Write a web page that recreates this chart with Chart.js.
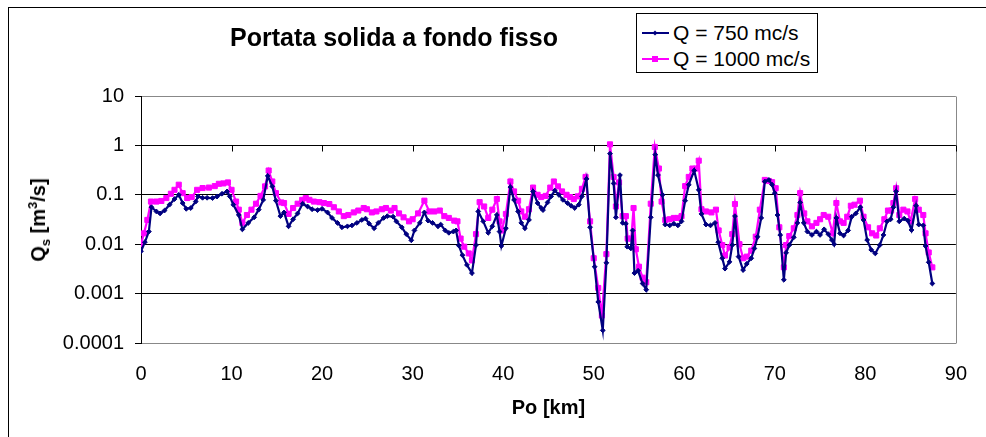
<!DOCTYPE html>
<html>
<head>
<meta charset="utf-8">
<script src="https://cdn.jsdelivr.net/npm/chart.js@4.4.1/dist/chart.umd.min.js"></script>
<style>
  html, body { margin: 0; padding: 0; background: #fff; overflow: hidden; }
  #wrap { position: relative; width: 986px; height: 437px; font-family: "Liberation Sans", Arial, sans-serif; color: #000; }
  #frame { position: absolute; left: 8px; top: 7px; width: 1200px; height: 800px; border-left: 1px solid #000; border-top: 1px solid #000; }
  canvas { position: absolute; left: 0; top: 0; }
  #title { position: absolute; left: 394px; top: 37px; transform: translate(-50%, -50%); white-space: nowrap; font-weight: bold; font-size: 25px; line-height: 1; }
  #ytitle { position: absolute; left: 38px; top: 220px; transform: translate(-50%, -50%) rotate(-90deg); white-space: nowrap; font-weight: bold; font-size: 20px; line-height: 1; }
  #ytitle sub, #ytitle sup { font-size: 13px; line-height: 0; }
  #legend { position: absolute; left: 636px; top: 13px; width: 180px; height: 58px; border: 1px solid #000; background: #fff; }
  .lrow { position: absolute; left: 5px; height: 24px; display: flex; align-items: center; font-size: 21px; white-space: nowrap; }
  .lrow svg { margin-right: 4px; }
</style>
</head>
<body>
<div id="wrap">
  <div id="frame"></div>
  <canvas id="c" width="986" height="437"></canvas>
  <div id="title">Portata solida a fondo fisso</div>
  <div id="ytitle">Q<sub>s</sub> [m<sup>3</sup>/s]</div>
  <div id="legend"></div>
</div>
<script>
// ---- data ----
const seriesNames = ['Q = 750 mc/s', 'Q = 1000 mc/s'];
const seriesColors = ['#000080', '#FF00FF'];

const km750 = [0,0.43,0.87,1.16,1.7,2.1,2.6,3.15,3.7,4.17,4.6,5.0,5.5,6.05,6.3,6.8,7.3,7.9,8.4,8.95,9.5,9.8,10.2,10.8,11.2,11.85,12.5,13.0,13.5,14.0,14.5,14.9,15.4,15.8,16.3,16.8,17.3,17.85,18.4,18.9,19.5,20.0,20.6,21.1,21.7,22.2,22.8,23.3,23.85,24.4,24.8,25.2,25.75,26.2,26.8,27.2,27.85,28.2,28.8,29.3,29.85,30.2,30.8,31.3,31.7,32.2,32.8,33.1,33.6,34.0,34.5,34.8,35.1,35.5,36.0,36.55,37.0,37.25,37.8,38.35,38.8,39.3,39.6,39.8,40.3,40.8,41.2,41.65,42.0,42.4,42.85,43.3,43.8,44.2,44.4,44.9,45.3,45.7,46.15,46.6,47.1,47.5,47.9,48.35,48.7,49.2,49.6,50.1,50.5,51.0,51.4,51.8,52.2,52.45,52.9,53.2,53.55,53.7,54.1,54.3,54.5,54.9,55.4,55.8,56.3,56.8,57.1,57.6,57.9,58.4,58.85,59.3,59.7,60.1,60.5,61.1,61.6,61.9,62.4,62.9,63.4,63.75,64.2,64.5,65.0,65.3,65.6,66.0,66.5,66.9,67.4,67.75,68.1,68.5,68.9,69.35,69.7,70.0,70.3,70.6,71.0,71.25,71.6,72.1,72.5,72.8,73.2,73.6,74.1,74.6,75.0,75.45,75.9,76.3,76.55,76.8,77.2,77.6,78.1,78.5,78.95,79.45,79.8,80.2,80.65,81.1,81.6,82.0,82.4,82.8,83.1,83.4,83.75,84.3,84.7,85.1,85.6,85.9,86.4,86.65,87.0,87.4];
const qs750 = [0.0072,0.011,0.018,0.056,0.046,0.042,0.048,0.063,0.082,0.1,0.068,0.052,0.054,0.073,0.093,0.087,0.087,0.086,0.092,0.105,0.117,0.093,0.063,0.039,0.02,0.027,0.035,0.05,0.079,0.24,0.148,0.076,0.037,0.044,0.023,0.032,0.042,0.066,0.058,0.051,0.049,0.052,0.044,0.034,0.027,0.022,0.023,0.024,0.027,0.031,0.033,0.026,0.021,0.027,0.034,0.037,0.036,0.029,0.022,0.016,0.012,0.019,0.027,0.044,0.03,0.027,0.023,0.025,0.019,0.017,0.018,0.019,0.0094,0.006,0.0038,0.0026,0.0096,0.046,0.029,0.017,0.023,0.039,0.018,0.0092,0.021,0.143,0.079,0.046,0.027,0.021,0.031,0.117,0.068,0.054,0.049,0.07,0.093,0.122,0.1,0.079,0.068,0.06,0.054,0.063,0.093,0.21,0.022,0.0035,0.00068,0.00018,0.0042,0.68,0.17,0.035,0.25,0.027,0.026,0.0089,0.0082,0.019,0.0026,0.0029,0.0016,0.0012,0.035,0.65,0.25,0.1,0.025,0.024,0.026,0.024,0.029,0.076,0.16,0.31,0.126,0.041,0.025,0.024,0.027,0.011,0.0052,0.0032,0.0044,0.0096,0.037,0.0056,0.003,0.004,0.0052,0.0082,0.0142,0.034,0.186,0.2,0.16,0.108,0.039,0.0154,0.0019,0.0067,0.0096,0.0138,0.027,0.07,0.027,0.018,0.0154,0.018,0.0154,0.02,0.016,0.0122,0.01,0.034,0.0166,0.015,0.019,0.036,0.042,0.056,0.031,0.0122,0.0077,0.0065,0.0096,0.0154,0.029,0.032,0.056,0.117,0.029,0.033,0.03,0.0194,0.06,0.025,0.024,0.0092,0.0043,0.0016];

const km1000 = [0,0.33,0.7,1.1,1.7,2.25,2.8,3.3,3.7,4.17,4.6,5.1,5.6,6.2,6.8,7.5,8.15,8.6,9.1,9.6,10.0,10.5,10.8,11.2,11.7,12.2,12.7,13.2,13.7,14.1,14.5,14.9,15.5,15.8,16.3,16.8,17.3,17.8,18.2,18.6,19.1,19.7,20.2,20.8,21.3,21.85,22.4,22.9,23.5,24.0,24.6,24.95,25.5,26.0,26.6,27.05,27.6,28.0,28.5,29.0,29.6,30.0,30.6,31.3,31.85,32.4,33.0,33.5,34.0,34.6,34.95,35.3,35.7,36.2,36.55,37.0,37.4,37.9,38.35,38.8,39.3,39.6,39.85,40.3,40.8,41.2,41.65,42.0,42.4,42.85,43.3,43.8,44.2,44.7,45.2,45.6,46.05,46.5,47.0,47.4,47.8,48.25,48.7,49.1,49.6,50.0,50.5,50.9,51.4,51.8,52.2,52.45,52.8,53.2,53.55,53.75,54.15,54.4,54.65,55.0,55.4,55.8,56.3,56.75,57.2,57.5,57.9,58.4,58.85,59.3,59.7,60.1,60.5,60.9,61.3,61.6,61.9,62.4,63.0,63.5,63.8,64.2,64.5,65.0,65.3,65.6,66.1,66.5,66.9,67.4,67.9,68.35,68.9,69.35,69.7,70.1,70.5,71.0,71.25,71.6,72.1,72.5,72.8,73.25,73.6,74.1,74.6,75.0,75.4,75.9,76.4,76.8,77.2,77.6,78.0,78.4,78.8,79.4,79.8,80.3,80.75,81.2,81.6,82.1,82.5,82.85,83.1,83.4,83.75,84.2,84.65,85.0,85.5,85.9,86.4,86.65,87.0,87.4];
const qs1000 = [0.01,0.0166,0.031,0.073,0.073,0.075,0.086,0.105,0.126,0.16,0.108,0.086,0.09,0.126,0.137,0.14,0.15,0.167,0.17,0.178,0.126,0.073,0.05,0.027,0.039,0.05,0.066,0.095,0.148,0.31,0.186,0.108,0.07,0.068,0.041,0.054,0.066,0.079,0.086,0.079,0.073,0.071,0.068,0.065,0.056,0.046,0.037,0.039,0.044,0.048,0.054,0.051,0.044,0.046,0.051,0.054,0.048,0.054,0.042,0.035,0.029,0.032,0.042,0.076,0.046,0.046,0.048,0.037,0.034,0.03,0.029,0.013,0.0089,0.0065,0.0047,0.016,0.071,0.058,0.034,0.05,0.082,0.029,0.019,0.041,0.186,0.117,0.076,0.046,0.036,0.051,0.14,0.1,0.09,0.095,0.14,0.186,0.148,0.117,0.1,0.09,0.082,0.093,0.132,0.23,0.029,0.0052,0.0013,0.00036,0.0063,1.05,0.23,0.058,0.178,0.037,0.037,0.013,0.013,0.054,0.0079,0.0035,0.0021,0.0017,0.066,0.93,0.34,0.073,0.031,0.032,0.034,0.034,0.037,0.15,0.23,0.34,0.34,0.49,0.051,0.046,0.044,0.05,0.019,0.0096,0.0059,0.0086,0.016,0.065,0.01,0.0052,0.0056,0.0074,0.0142,0.05,0.2,0.19,0.18,0.136,0.022,0.0034,0.0096,0.0146,0.021,0.039,0.108,0.042,0.029,0.023,0.027,0.032,0.039,0.036,0.0166,0.068,0.029,0.027,0.036,0.06,0.063,0.076,0.036,0.022,0.0166,0.015,0.021,0.032,0.048,0.048,0.068,0.136,0.039,0.05,0.046,0.029,0.082,0.05,0.039,0.0166,0.0068,0.0034];

const xTicks = [0,10,20,30,40,50,60,70,80,90];
const yTicks = [0.0001,0.001,0.01,0.1,1,10];
const yTickLabels = ['0.0001','0.001','0.01','0.1','1','10'];
const xAxisTitle = 'Po [km]';
const axisCross = 1; // category axis crosses the value axis at 1 (Excel default for log)

// ---- build ----
const toPts = (xs, ys) => xs.map((x, i) => ({x: x, y: ys[i]}));

const FONT = '"Liberation Sans", Arial, sans-serif';

const excelAxes = {
  id: 'excelAxes',
  beforeDatasetsDraw(chart) {
    const {ctx, chartArea, scales} = chart;
    const x = scales.x, y = scales.y;
    ctx.save();
    ctx.lineWidth = 1;
    ctx.strokeStyle = '#888888';
    const r = Math.round(chartArea.right) + 0.5;
    ctx.beginPath();
    ctx.moveTo(r, Math.round(chartArea.top) + 0.5);
    ctx.lineTo(r, Math.round(chartArea.bottom) + 0.5);
    ctx.stroke();
    const yc = Math.round(y.getPixelForValue(axisCross)) + 0.5;
    ctx.strokeStyle = '#000';
    ctx.beginPath();
    xTicks.forEach(v => {
      const px = Math.round(x.getPixelForValue(v)) + 0.5;
      ctx.moveTo(px, yc);
      ctx.lineTo(px, yc + 6);
    });
    ctx.stroke();
    ctx.restore();
  }
};

const chart = new Chart(document.getElementById('c'), {
  type: 'line',
  data: {
    datasets: [
      {
        label: seriesNames[0],
        data: toPts(km750, qs750),
        borderColor: seriesColors[0],
        backgroundColor: seriesColors[0],
        borderWidth: 2.2,
        pointStyle: 'rectRot',
        pointRadius: 2.4,
        pointBorderWidth: 1,
        pointBackgroundColor: seriesColors[0],
        pointBorderColor: seriesColors[0],
        tension: 0,
        fill: false
      },
      {
        label: seriesNames[1],
        data: toPts(km1000, qs1000),
        borderColor: seriesColors[1],
        backgroundColor: seriesColors[1],
        borderWidth: 2.2,
        pointStyle: 'rect',
        pointRadius: 3.6,
        pointBorderWidth: 1,
        pointBackgroundColor: seriesColors[1],
        pointBorderColor: seriesColors[1],
        tension: 0,
        fill: false
      }
    ]
  },
  options: {
    responsive: false,
    devicePixelRatio: 1,
    animation: false,
    events: [],
    layout: { padding: { left: 0, right: 17, top: 96, bottom: 0 } },
    plugins: {
      legend: { display: false },
      title: { display: false },
      tooltip: { enabled: false }
    },
    scales: {
      x: {
        type: 'linear',
        min: 0,
        max: 90,
        afterBuildTicks: (axis) => { axis.ticks = xTicks.map(v => ({value: v})); },
        afterFit: (axis) => { axis.height = 94; },
        grid: { display: false, drawTicks: false },
        border: { display: true, color: '#888888', width: 1 },
        ticks: {
          autoSkip: false,
          maxRotation: 0,
          padding: 19,
          color: '#000',
          font: { family: FONT, size: 20 },
          callback: (v) => String(v)
        },
        title: {
          display: true,
          text: xAxisTitle,
          color: '#000',
          font: { family: FONT, size: 20, weight: 'bold' },
          padding: { top: 0, bottom: 17 }
        }
      },
      y: {
        type: 'logarithmic',
        min: 0.0001,
        max: 10,
        afterBuildTicks: (axis) => { axis.ticks = yTicks.map(v => ({value: v})); },
        afterFit: (axis) => { axis.width = 141; },
        grid: {
          display: true,
          drawTicks: true,
          tickLength: 6,
          tickColor: '#000',
          lineWidth: 1,
          color: (ctx) => {
            const v = ctx.tick ? ctx.tick.value : null;
            if (v === 10 || v === 0.0001) return '#888888';
            return '#000';
          }
        },
        border: { display: true, color: '#000', width: 1 },
        ticks: {
          autoSkip: false,
          padding: 11,
          color: '#000',
          font: { family: FONT, size: 20 },
          callback: (v) => {
            const i = yTicks.findIndex(t => Math.abs(t - v) / t < 1e-6);
            return i >= 0 ? yTickLabels[i] : '';
          }
        }
      }
    }
  },
  plugins: [excelAxes]
});

// ---- HTML legend (boxed, Excel-like) ----
const legend = document.getElementById('legend');
chart.data.datasets.forEach((ds, i) => {
  const row = document.createElement('div');
  row.className = 'lrow';
  row.style.top = (i === 0 ? 7 : 33) + 'px';
  const marker = i === 0
    ? '<polygon points="13,2.5 15.5,5 13,7.5 10.5,5" fill="' + ds.borderColor + '"/>'
    : '<rect x="10" y="2" width="6" height="6" fill="' + ds.borderColor + '"/>';
  row.innerHTML = '<svg width="27" height="10" viewBox="0 0 27 10"><line x1="0" y1="5" x2="27" y2="5" stroke="' + ds.borderColor + '" stroke-width="2"/>' + marker + '</svg><span></span>';
  row.querySelector('span').textContent = ds.label;
  legend.appendChild(row);
});
</script>
</body>
</html>
